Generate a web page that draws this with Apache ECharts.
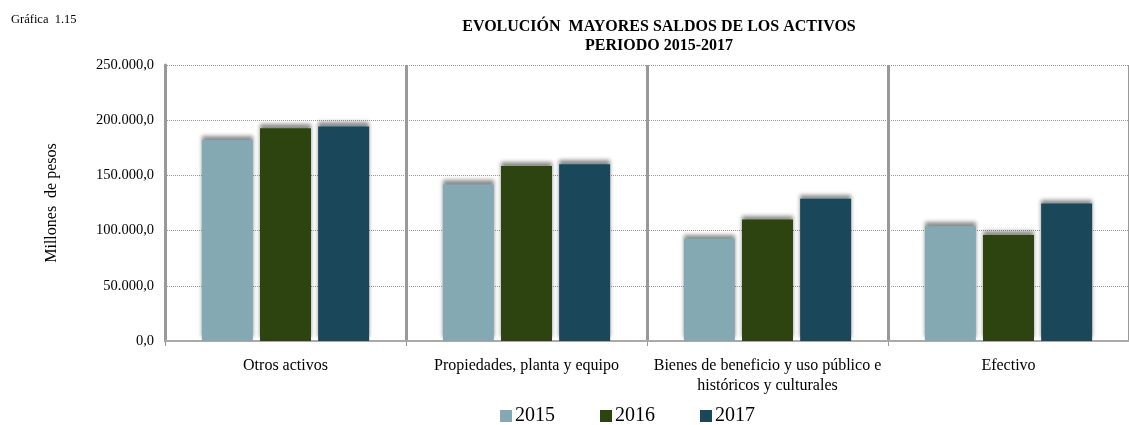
<!DOCTYPE html>
<html>
<head>
<meta charset="utf-8">
<script src="https://cdn.jsdelivr.net/npm/echarts@6/dist/echarts.min.js"></script>
<style>
  html, body { margin: 0; padding: 0; background: #fff; }
  #myChart { width: 1129px; height: 425px; }
</style>
</head>
<body>
<div id="myChart"></div>
<script>
// categorias del eje X
var categorias = [
  "Otros activos",
  "Propiedades, planta y equipo",
  "Bienes de beneficio y uso público e\nhistóricos y culturales",
  "Efectivo"
];
// saldos por año (millones de pesos)
var anios = ["2015", "2016", "2017"];
var saldos2015 = [182000, 141800, 92700, 103900];
var saldos2016 = [192700, 158500, 110000, 96100];
var saldos2017 = [194300, 160000, 128800, 124500];
var colores = ["#84a9b3", "#2e4410", "#1b475b"];

var fuente = "'Liberation Serif', 'Times New Roman', serif";

// formato 250.000,0
function formatoMiles (v) {
  var s = String(Math.round(v)).replace(/\B(?=(\d{3})+(?!\d))/g, ".");
  return s + ",0";
}

function serie (name, data, color) {
  return {
    name: name,
    type: "bar",
    data: data,
    barWidth: 51,
    barGap: "14%",
    itemStyle: {
      color: color,
      shadowColor: "rgba(0,0,0,0.45)",
      shadowBlur: 4,
      shadowOffsetY: -4
    }
  };
}

var myChart = echarts.init(document.getElementById("myChart"));
var option = {
  animation: false,
  textStyle: { fontFamily: fuente },
  title: [
    {
      text: "EVOLUCIÓN  MAYORES SALDOS DE LOS ACTIVOS\nPERIODO 2015-2017",
      left: 654,
      top: 12,
      textAlign: "center",
      textStyle: { fontFamily: fuente, fontSize: 16, fontWeight: "bold", color: "#000", lineHeight: 19 }
    },
    {
      text: "Gráfica  1.15",
      left: 6,
      top: 8,
      textStyle: { fontFamily: fuente, fontSize: 12.5, fontWeight: "normal", color: "#000" }
    }
  ],
  legend: {
    data: anios,
    left: 495,
    top: 401,
    itemWidth: 12,
    itemHeight: 12,
    itemGap: 45,
    icon: "rect",
    textStyle: { fontFamily: fuente, fontSize: 20, color: "#000", padding: [0, 0, 0, -2] }
  },
  grid: {
    left: 165,
    top: 65,
    width: 966,
    height: 276
  },
  xAxis: {
    type: "category",
    data: categorias,
    axisLine: { lineStyle: { color: "#aaa", width: 2 } },
    axisTick: { show: true, length: 5, lineStyle: { color: "#999", width: 1 } },
    axisLabel: {
      fontFamily: fuente,
      fontSize: 16,
      color: "#000",
      margin: 15,
      lineHeight: 20,
      interval: 0
    },
    splitLine: {
      show: true,
      interval: 0,
      lineStyle: { color: "#999", width: 3 }
    }
  },
  yAxis: {
    type: "value",
    min: 0,
    max: 250000,
    interval: 50000,
    name: "Millones  de pesos",
    nameLocation: "middle",
    nameRotate: 90,
    nameGap: 105,
    nameTextStyle: { fontFamily: fuente, fontSize: 16, color: "#000" },
    axisLine: { show: true, lineStyle: { color: "#999", width: 3 } },
    axisTick: { show: false },
    axisLabel: {
      fontFamily: fuente,
      fontSize: 14.5,
      color: "#000",
      margin: 11,
      formatter: formatoMiles
    },
    splitLine: {
      show: true,
      lineStyle: { color: "#999", width: 1, type: [1, 1] }
    }
  },
  series: [
    serie(anios[0], saldos2015, colores[0]),
    serie(anios[1], saldos2016, colores[1]),
    serie(anios[2], saldos2017, colores[2])
  ]
};
myChart.setOption(option);
</script>
</body>
</html>
